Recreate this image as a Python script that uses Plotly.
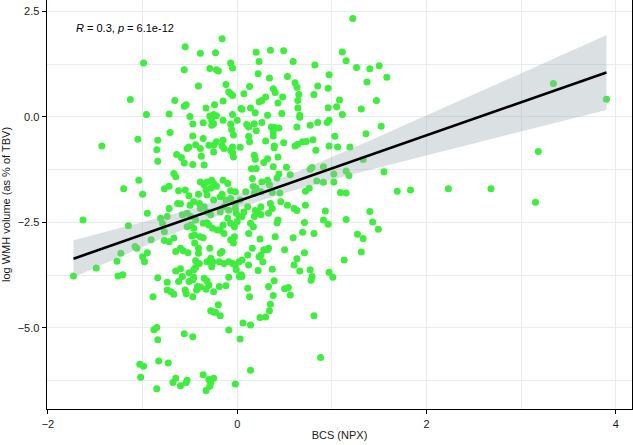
import numpy as np
import plotly.graph_objects as go

# BCS (NPX) values and log WMH volume (as % of TBV)
bcs_npx = [
    -0.16, -0.55, -0.39, -0.23, -0.99, -0.56, -0.29, -0.22, -0.20, -0.07, -0.05, -0.12, -0.41, -0.09, -0.07, -0.05,
    -1.13, -0.66, -0.15, -0.24, -0.56, -0.54, -0.33, 0.04, -0.96, -0.72, -0.50, -0.29, -0.25, -0.27, -0.25, -0.27,
    -0.15, -0.05, 0.00, -0.47, -0.36, -0.07, -0.71, -0.47, -0.36, -1.43, -1.05, -0.84, -0.85, -0.53, -0.51, -0.44,
    -0.39, -0.38, -0.30, -0.25, -0.22, -0.15, -0.16, -0.25, -0.06, -0.04, -0.05, -0.05, -0.04, 0.03, -0.64, -0.59,
    -0.56, -0.84, -0.47, -0.35, -0.67, -0.65, -1.04, -1.20, -1.00, -0.77, -0.72, -0.62, -0.55, -0.39, -0.35, -0.32,
    -0.27, -0.25, -0.22, -0.33, -0.28, -0.15, -0.07, -0.41, -0.32, -0.16, -0.22, -0.51, -0.14, -0.07,
    1.22, 0.20, 0.35, 0.49, 1.11, 1.15, 0.23, 0.59, 0.82, 1.26, 1.40, 1.50, 1.58, 1.37, 0.22, 0.34,
    0.53, 0.61, 0.63, 0.97, 0.96, 0.85, 0.13, 0.07, 0.38, 0.40, 0.48, 0.65, 0.64, 0.81, 0.30, 0.26,
    0.23, 0.43, 1.08, 1.47, 0.14, 0.05, 0.64, 0.96, 1.05, 1.31, 0.19, 0.32, 0.47, 0.66, 0.66, 1.11,
    0.26, 0.10, 0.12, 0.18, 0.36, 0.39, 0.44, 0.38, 0.63, 0.77, 0.85, 0.95, 0.97, 1.52, 0.20, 0.12,
    0.13, 0.30, 0.38, 0.39, 0.39, 0.49, 0.61, 0.64, 0.69, 0.73, 0.80, 1.03, 1.36, 0.97, 1.06, 1.19,
    0.83, 0.18, 0.19, 0.28, 0.32, 0.38, 0.43, 0.15, 0.20, 0.52, 0.44, 0.56, 0.77, 0.79, 0.91, 1.02,
    1.15, 1.18, 1.33, 1.55, 1.69, 0.16, 0.26, 0.17, 0.20, 0.32, 0.34, 0.37, 0.45, 0.84, 0.91, 1.02,
    0.72, 0.76, 1.09, 1.15, 0.09,
    3.34, 3.90, 3.18, 1.83, 2.23, 2.68, 3.15,
    -1.63, -0.95, -1.15, -1.73, -1.49, -1.27, -1.26, -1.21, -1.23, -1.08, -1.06, -1.00, -0.98, -0.95, -0.91, -0.84,
    -0.89, -0.81, -0.79, -0.77, -0.74, -0.72, -0.63, -0.60, -0.77, -0.72, -0.67, -0.74, -0.74, -0.67, -0.65, -0.60,
    -0.65, -0.60, -0.57, -0.52, -0.58, -0.51, -0.46, -0.44, -0.55, -0.54, -0.51, -0.47, -0.46, -0.43, -0.42, -0.39,
    -0.47, -0.35, -0.32, -0.30, -0.33, -0.44, -0.41, -0.32, -0.28, -0.26, -0.27, -0.19, -0.16, -0.18, -0.29, -0.48,
    -0.45, -0.39, -0.36, -0.45, -0.41, -0.53, -0.49, -0.46, -0.36, -0.32, -0.30, -0.58, -0.53, -0.49, -0.39, -0.35,
    -0.32, -0.28, -0.50, -0.46, -0.18, -0.14, -0.15, -0.07, -0.03, 0.00, 0.02, -0.01, -0.10, -0.09, -0.07, -0.03,
    -0.04, -0.09, -0.05, -0.02, -0.01, 0.02, -0.12, -0.09, 0.02, -0.20, -0.28, -0.25, -0.23, -0.18, -0.88, -0.85,
    -0.84, -0.56, -0.47, -0.09, 0.03, -1.03, -0.99, -1.02, -0.83, -0.73, -0.85, -0.68, -0.65, -0.60, -0.54, -0.53,
    -0.36, -0.30, -0.28, -0.25, -0.29, -0.33, -0.02, -0.25, -0.18, -0.12, -0.07, -0.02, 0.03, -0.02,
    0.46, 0.35, 0.37, 0.33, 0.53, 0.60, 0.63, 0.72, 0.93, 0.91, 0.96, 0.71, 0.81, 0.69, 0.59, 1.15,
    1.40, 1.43, 1.49, 1.27, 1.33, 1.31, 1.13, 0.97, 1.01, 0.71, 0.63, 0.60, 0.66, 0.77, 0.79, 0.78,
    0.50, 0.40, 0.43, 0.42, 0.23, 0.25, 0.18, 0.19, 0.14, 0.17, 0.12, 0.24, 0.33, 0.32, 0.28, 0.25,
    0.23, 0.27, 0.11, 0.12, 0.05, 0.04, 0.05, 0.22, 0.37, 0.39, 0.33, 0.11, 0.13, 0.38, 0.50, 0.54,
    0.56, 0.35, 0.34, 0.24, 0.30, 0.06, 0.14, 0.81, 0.88, 0.14,
    0.42, 0.18, 0.25, 0.25, 0.11, 0.07, 0.05, 0.16, -0.10, -0.02, -0.40, -0.14, -0.18, -0.44, -0.26, -0.21,
    -0.40, -0.14, -0.62, -0.70, -0.25, -0.19,
]

log_wmh = [
    1.85, 1.66, 1.51, 1.52, 1.28, 1.12, 1.15, 1.12, 1.09, 1.28, 1.16, 0.77, 0.73, 0.59, 0.55, 0.51,
    0.41, 0.39, 0.38, 0.29, 0.25, 0.29, 0.21, 0.20, 0.06, 0.07, 0.01, 0.02, 0.06, -0.08, -0.16, -0.20,
    -0.08, 0.06, -0.08, -0.17, -0.14, -0.17, -0.37, -0.45, -0.51, -0.69, -0.53, -0.55, -0.78, -0.75, -0.71, -0.66,
    -0.75, -0.93, -0.67, -0.67, -0.59, -0.55, -0.69, -0.83, -0.30, -0.43, -0.71, -0.85, -0.95, -0.72, -0.89, -0.96,
    -1.09, -1.05, -1.13, -1.14, -1.34, -1.42, -1.50, -1.70, -1.83, -1.70, -1.64, -1.75, -1.73, -1.54, -1.61, -1.54,
    -1.50, -1.57, -1.64, -1.73, -1.69, -1.50, -1.75, -1.83, -1.85, -1.83, 0.03, -1.87, -0.75, -0.79,
    2.33, 1.53, 1.58, 1.57, 1.54, 1.33, 1.31, 1.31, 1.23, 1.17, 1.14, 1.21, 0.94, 0.83, 1.02, 0.92,
    0.96, 0.81, 0.70, 1.00, 0.68, 0.73, 0.72, 0.55, 0.67, 0.58, 0.47, 0.53, 0.39, 0.53, 0.47, 0.39,
    0.36, 0.33, 0.40, 0.39, 0.21, 0.18, 0.21, 0.22, 0.24, 0.19, 0.10, 0.04, 0.08, 0.04, -0.01, 0.06,
    -0.13, -0.18, -0.24, -0.16, -0.24, -0.25, -0.26, -0.35, -0.24, -0.20, -0.13, -0.13, -0.08, -0.22, -0.33, -0.46,
    -0.59, -0.57, -0.45, -0.69, -0.73, -0.61, -0.69, -0.65, -0.59, -0.58, -0.54, -0.46, -0.40, -0.69, -0.71, -0.71,
    -0.79, -0.91, -1.00, -1.08, -0.99, -1.18, -0.95, -1.23, -1.22, -1.19, -1.35, -1.37, -1.24, -1.20, -1.18, -1.35,
    -1.28, -1.39, -1.01, -1.30, -1.76, -1.46, -1.54, -1.65, -1.69, -1.50, -1.61, -1.79, -1.80, -1.52, -1.55, -1.54,
    -1.76, -1.69, -1.79, -1.80, -1.77,
    0.79, 0.42, -0.82, -1.73, -1.70, -1.70, -2.02,
    -2.44, -2.28, -2.58, -3.77, -3.58, -3.42, -3.77, -3.74, -3.23, -3.07, -3.11, -3.31, -3.43, -3.22, -2.91, -3.81,
    -4.26, -2.40, -2.52, -2.72, -2.36, -2.17, -2.05, -2.06, -2.93, -2.96, -2.87, -3.92, -4.10, -4.20, -3.65, -3.60,
    -3.19, -3.11, -3.17, -3.22, -3.78, -3.69, -3.62, -3.57, -4.10, -4.19, -3.90, -3.86, -3.80, -4.10, -4.02, -4.03,
    -4.26, -3.82, -3.88, -3.98, -4.08, -3.41, -3.23, -3.43, -3.35, -3.43, -3.55, -3.43, -3.19, -3.23, -3.11, -2.82,
    -2.80, -2.84, -2.86, -2.99, -3.11, -2.60, -2.56, -2.64, -2.52, -2.51, -2.56, -2.32, -2.28, -2.36, -2.17, -2.13,
    -2.25, -2.32, -2.09, -2.01, -2.68, -2.76, -2.56, -2.52, -2.60, -2.48, -2.36, -2.28, -2.40, -2.21, -2.91, -2.84,
    -2.99, -3.43, -3.47, -3.51, -3.62, -3.43, -4.00, -3.80, -3.78, -4.45, -4.59, -4.62, -4.63, -4.71, -5.04, -4.99,
    -5.28, -5.14, -5.21, -5.05, -5.26, -5.86, -5.91, -6.17, -5.78, -5.83, -6.44, -6.29, -6.19, -6.37, -6.29, -6.24,
    -6.11, -6.22, -6.29, -6.19, -6.38, -6.48, -6.33, -1.97, -1.89, -1.97, -1.93, -2.05, -1.97, -2.17,
    -2.01, -2.05, -2.17, -2.28, -2.09, -2.17, -2.22, -2.09, -2.23, -2.44, -2.54, -2.50, -2.76, -2.73, -2.86, -2.43,
    -2.24, -2.49, -2.66, -2.78, -2.88, -3.20, -3.39, -3.68, -3.80, -3.22, -3.36, -3.51, -3.65, -3.62, -3.78, -3.87,
    -3.15, -2.84, -2.44, -2.51, -2.28, -2.32, -2.36, -2.22, -2.52, -2.60, -2.76, -2.89, -3.11, -3.15, -3.15, -3.27,
    -3.31, -3.43, -3.27, -3.51, -3.39, -3.74, -3.78, -3.64, -3.61, -3.88, -4.02, -4.06, -4.26, -4.23, -4.07, -4.04,
    -4.22, -4.44, -4.59, -4.75, -4.74, -4.88, -4.93, -4.71, -5.70, -6.00,
    -1.45, -1.81, -1.77, -2.13, -2.13, -2.25, -2.36, -3.11, -1.58, -1.77, -2.05, -2.13, -2.25, -2.44, -2.64, -2.68,
    -3.47, -3.47, -3.90, -4.14, -4.14, -4.02,
]

x_ticks = [-2, 0, 2, 4]
y_ticks = [-5.0, -2.5, 0.0, 2.5]
x_title = "BCS (NPX)"
y_title = "log WMH volume (as % of TBV)"
cor_label = "<i>R</i> = 0.3, <i>p</i> = 6.1e-12"

x = np.array(bcs_npx, dtype=float)
y = np.array(log_wmh, dtype=float)
n = min(len(x), len(y))
x, y = x[:n], y[:n]

# linear fit with 95% confidence band (like geom_smooth(method = "lm"))
slope, intercept = np.polyfit(x, y, 1)
xs = np.linspace(x.min(), x.max(), 100)
yhat = intercept + slope * xs
resid = y - (intercept + slope * x)
s = np.sqrt(np.sum(resid ** 2) / (n - 2))
sxx = np.sum((x - x.mean()) ** 2)
se = s * np.sqrt(1.0 / n + (xs - x.mean()) ** 2 / sxx)
tcrit = 1.965
upper = yhat + tcrit * se
lower = yhat - tcrit * se

fig = go.Figure()
fig.add_trace(go.Scatter(
    x=x, y=y, mode="markers",
    marker=dict(color="#3DEE3D", size=7, line=dict(width=0)),
    hoverinfo="skip",
))
fig.add_trace(go.Scatter(
    x=np.concatenate([xs, xs[::-1]]),
    y=np.concatenate([upper, lower[::-1]]),
    fill="toself", fillcolor="rgba(160,175,180,0.38)",
    line=dict(width=0), mode="lines", hoverinfo="skip",
))
fig.add_trace(go.Scatter(
    x=xs, y=yhat, mode="lines",
    line=dict(color="black", width=2.6), hoverinfo="skip",
))

grid_col = "#E6ECF0"
fig.update_layout(
    width=633, height=445,
    margin=dict(l=47, r=1, t=0, b=36),
    plot_bgcolor="white", paper_bgcolor="white",
    showlegend=False,
    font=dict(family="Liberation Sans, Arial, sans-serif", size=11, color="#1a1a1a"),
    annotations=[dict(
        x=-1.73, y=2.10, xref="x", yref="y", text=cor_label,
        showarrow=False, xanchor="left", yanchor="middle",
        font=dict(size=11, color="black"),
    )],
)
fig.update_xaxes(
    range=[-2.01, 4.17], tickvals=x_ticks, ticks="outside", ticklen=4, tickwidth=1,
    tickcolor="black", showline=True, linecolor="black", linewidth=1.4, mirror=True,
    showgrid=True, gridcolor=grid_col, gridwidth=1, zeroline=False,
    minor=dict(dtick=1, tick0=0, showgrid=True, gridcolor=grid_col, gridwidth=1),
    title=dict(text=x_title, standoff=2, font=dict(size=11)),
    tickfont=dict(size=11, color="#1a1a1a"),
)
fig.update_yaxes(
    range=[-6.92, 2.77], tickvals=y_ticks, tickformat=".1f", ticks="outside", ticklen=4, tickwidth=1,
    tickcolor="black", showline=True, linecolor="black", linewidth=1.4, mirror=True,
    showgrid=True, gridcolor=grid_col, gridwidth=1, zeroline=False,
    minor=dict(dtick=1.25, tick0=0, showgrid=True, gridcolor=grid_col, gridwidth=1),
    title=dict(text=y_title, standoff=6, font=dict(size=11)),
    tickfont=dict(size=11, color="#1a1a1a"),
)

fig.write_html(
    "out.html",
    config={"displayModeBar": False, "staticPlot": True},
    post_script="document.body.style.margin='0';document.body.style.padding='0';",
)
